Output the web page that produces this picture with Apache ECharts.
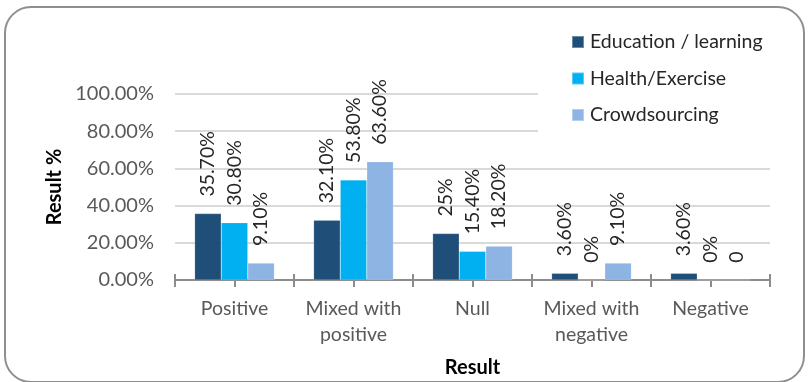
<!DOCTYPE html>
<html>
<head>
<meta charset="utf-8">
<script src="https://cdn.jsdelivr.net/npm/echarts@6/dist/echarts.min.js"></script>
<style>
  html, body { margin: 0; padding: 0; background: #fff; }
  #chart { width: 809px; height: 382px; }
</style>
</head>
<body>
<div id="chart"></div>
<script>
// Outcome categories along the x axis
const categories = ['Positive', 'Mixed with\npositive', 'Null', 'Mixed with\nnegative', 'Negative'];

// Share of studies per outcome (fractions of 1)
const educationValues = [0.357, 0.321, 0.25, 0.036, 0.036];
const healthValues = [0.308, 0.538, 0.154, 0, 0];
const crowdValues = [0.091, 0.636, 0.182, 0.091, 0];

// Data label text as printed above each bar
const educationLabels = ['35.70%', '32.10%', '25%', '3.60%', '3.60%'];
const healthLabels = ['30.80%', '53.80%', '15.40%', '0%', '0%'];
const crowdLabels = ['9.10%', '63.60%', '18.20%', '9.10%', '0'];

const seriesNames = ['Education / learning', 'Health/Exercise', 'Crowdsourcing'];
const seriesColors = ['#1F4E79', '#00B0F0', '#8EB4E3'];

const FONT = 'Lato';

const chart = echarts.init(document.getElementById('chart'), null, { renderer: 'canvas' });

function barSeries(name, values, labels, color) {
  return {
    name: name,
    type: 'bar',
    xAxisIndex: 0,
    data: values,
    barGap: '0%',
    barCategoryGap: '33%',
    itemStyle: { color: color, borderColor: 'rgba(255,255,255,0.35)', borderWidth: 0.5 },
    label: {
      show: true,
      position: 'top',
      rotate: 90,
      align: 'left',
      verticalAlign: 'middle',
      distance: 17,
      fontFamily: FONT,
      fontSize: 19.5,
      color: '#262626',
      formatter: p => labels[p.dataIndex]
    }
  };
}

chart.setOption({
  animation: false,
  backgroundColor: '#fff',
  textStyle: { fontFamily: FONT },
  graphic: [{
    // chart frame
    type: 'rect',
    z: -10,
    shape: { x: 5, y: 7, width: 799, height: 375, r: 26 },
    style: { fill: 'none', stroke: '#8f8f8f', lineWidth: 2 }
  }, {
    // white panel behind the legend, hiding the gridlines there
    type: 'rect',
    z: 3,
    shape: { x: 538, y: 20, width: 240, height: 126 },
    style: { fill: '#fff' }
  }],
  grid: { left: 175, right: 39, top: 94, bottom: 102 },
  legend: {
    orient: 'vertical',
    left: 571,
    top: 32,
    padding: 0,
    z: 20,
    itemWidth: 12,
    itemHeight: 12,
    itemGap: 16.5,
    icon: 'rect',
    data: seriesNames,
    textStyle: { fontFamily: FONT, fontSize: 19.5, color: '#262626', lineHeight: 20, padding: [0, 0, 0, 1] }
  },
  xAxis: [{
    type: 'category',
    data: categories,
    position: 'bottom',
    name: 'Result',
    nameLocation: 'middle',
    nameGap: 78,
    nameTextStyle: { fontFamily: FONT, fontSize: 20, fontWeight: 'bold', color: '#000' },
    axisLine: { lineStyle: { color: '#8c8c8c', width: 2 } },
    axisTick: { show: true, inside: true, length: 6, lineStyle: { color: '#8c8c8c', width: 2 } },
    axisLabel: { interval: 0, hideOverlap: false, fontFamily: FONT, fontSize: 19.5, color: '#595959', margin: 16, lineHeight: 26 }
  }, {
    // finer tick row: one tick at every half category
    type: 'category',
    data: ['', '', '', '', '', '', '', '', '', ''],
    position: 'bottom',
    axisLine: { show: false },
    axisTick: { show: true, interval: 0, length: 7, lineStyle: { color: '#8c8c8c', width: 2 } },
    axisLabel: { show: false },
    splitLine: { show: false }
  }],
  yAxis: {
    type: 'value',
    min: 0,
    max: 1,
    interval: 0.2,
    name: 'Result %',
    nameLocation: 'middle',
    nameGap: 108,
    nameTextStyle: { fontFamily: FONT, fontSize: 20, fontWeight: 'bold', color: '#000' },
    axisLine: { show: false },
    axisTick: { show: false },
    axisLabel: {
      fontFamily: FONT, fontSize: 20, color: '#595959', margin: 21,
      formatter: v => (v * 100).toFixed(2) + '%'
    },
    splitLine: { lineStyle: { color: '#d9d9d9', width: 2 } }
  },
  series: [
    barSeries(seriesNames[0], educationValues, educationLabels, seriesColors[0]),
    barSeries(seriesNames[1], healthValues, healthLabels, seriesColors[1]),
    barSeries(seriesNames[2], crowdValues, crowdLabels, seriesColors[2])
  ]
});
</script>
</body>
</html>
